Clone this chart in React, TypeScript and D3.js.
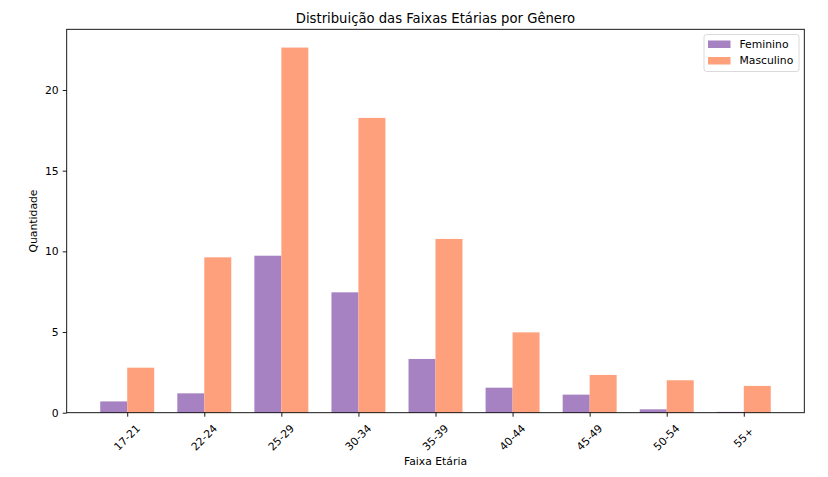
import { useRef, useEffect } from 'react';
import * as d3 from 'd3';

const CATEGORIES = ['17-21', '22-24', '25-29', '30-34', '35-39', '40-44', '45-49', '50-54', '55+'];
const FEMININO = [0.7, 1.2, 9.73, 7.46, 3.33, 1.55, 1.12, 0.21, 0.05];
const MASCULINO = [2.79, 9.63, 22.63, 18.27, 10.77, 4.98, 2.34, 2.01, 1.66];
const Y_TICKS = [0, 5, 10, 15, 20];
const SERIES = [
  { name: 'Feminino', values: FEMININO, color: '#a682c2', offset: -1 },
  { name: 'Masculino', values: MASCULINO, color: '#ffa07d', offset: 0 },
];

const FONT = '"DejaVu Sans", sans-serif';

export default function App() {
  const svgRef = useRef<SVGSVGElement>(null);

  useEffect(() => {
    if (!svgRef.current) return;
    const width = 828;
    const h = 477;
    const margin = { top: 29.3, right: 828 - 804.3, bottom: 477 - 412.7, left: 66.7 };
    const barW = 0.35;

    const svg = d3.select(svgRef.current);
    svg.selectAll('*').remove();
    svg.attr('width', width).attr('height', h).attr('viewBox', `0 0 ${width} ${h}`);

    const n = CATEGORIES.length;
    const lo = -barW, hi = n - 1 + barW;
    const pad = (hi - lo) * 0.05;
    const x = d3.scaleLinear().domain([lo - pad, hi + pad]).range([margin.left, width - margin.right]);

    const yMax = d3.max(MASCULINO.concat(FEMININO)) ?? 1;
    const y = d3.scaleLinear().domain([0, yMax * 1.05]).range([h - margin.bottom, margin.top]);

    // Bars
    SERIES.forEach(s => {
      svg.append('g')
        .selectAll('rect')
        .data(s.values)
        .join('rect')
        .attr('x', (_, i) => x(i + s.offset * barW))
        .attr('width', x(barW) - x(0))
        .attr('y', d => y(d))
        .attr('height', d => y(0) - y(d))
        .attr('fill', s.color);
    });

    // Frame
    svg.append('rect')
      .attr('x', margin.left).attr('y', margin.top)
      .attr('width', width - margin.right - margin.left)
      .attr('height', h - margin.bottom - margin.top)
      .attr('fill', 'none').attr('stroke', '#000').attr('stroke-width', 0.9);

    // Axes
    svg.append('g')
      .attr('transform', `translate(0,${h - margin.bottom})`)
      .call(d3.axisBottom(x).tickValues(d3.range(n)).tickFormat(() => '').tickSize(4).tickPadding(0))
      .call(g => g.select('.domain').remove())
      .call(g => g.selectAll('.tick line').attr('stroke', '#000').attr('stroke-width', 0.9));

    svg.append('g')
      .selectAll('text')
      .data(CATEGORIES)
      .join('text')
      .attr('transform', (_, i) => `translate(${x(i)},${h - margin.bottom + 25}) rotate(-45)`)
      .attr('text-anchor', 'middle')
      .attr('dominant-baseline', 'central')
      .attr('font-family', FONT).attr('font-size', '10.8px').attr('fill', '#000')
      .text(d => d);

    svg.append('g')
      .attr('transform', `translate(${margin.left},0)`)
      .call(d3.axisLeft(y).tickValues(Y_TICKS).tickFormat(d => `${d}`).tickSize(4).tickPadding(4))
      .call(g => g.select('.domain').remove())
      .call(g => g.selectAll('.tick line').attr('stroke', '#000').attr('stroke-width', 0.9))
      .call(g => g.selectAll('.tick text').attr('fill', '#000').attr('font-size', '10.8px').attr('font-family', FONT));

    // Title and labels
    svg.append('text')
      .attr('x', (margin.left + width - margin.right) / 2).attr('y', 18)
      .attr('text-anchor', 'middle').attr('dominant-baseline', 'central')
      .attr('font-family', FONT).attr('font-size', '13.2px').attr('fill', '#000')
      .text('Distribuição das Faixas Etárias por Gênero');

    svg.append('text')
      .attr('x', (margin.left + width - margin.right) / 2).attr('y', 461)
      .attr('text-anchor', 'middle').attr('dominant-baseline', 'central')
      .attr('font-family', FONT).attr('font-size', '10.8px').attr('fill', '#000')
      .text('Faixa Etária');

    svg.append('text')
      .attr('transform', `translate(33.5,${(margin.top + h - margin.bottom) / 2}) rotate(-90)`)
      .attr('text-anchor', 'middle').attr('dominant-baseline', 'central')
      .attr('font-family', FONT).attr('font-size', '10.8px').attr('fill', '#000')
      .text('Quantidade');

    // Legend
    const lg = svg.append('g');
    lg.append('rect')
      .attr('x', 704).attr('y', 34.5).attr('width', 95).attr('height', 37).attr('rx', 2.5)
      .attr('fill', '#fff').attr('fill-opacity', 0.8).attr('stroke', '#d6d6d6').attr('stroke-width', 0.9);
    SERIES.forEach((s, i) => {
      const cy = 44 + i * 16.5;
      lg.append('rect').attr('x', 708).attr('y', cy - 3.5).attr('width', 22.5).attr('height', 7.5).attr('fill', s.color);
      lg.append('text')
        .attr('x', 739.5).attr('y', cy)
        .attr('dominant-baseline', 'central')
        .attr('font-family', FONT).attr('font-size', '10.8px').attr('fill', '#000')
        .text(s.name);
    });
  }, []);

  return (
    <div style={{ position: 'absolute', left: 0, top: 0 }}>
      <svg ref={svgRef} style={{ display: 'block' }} />
    </div>
  );
}
